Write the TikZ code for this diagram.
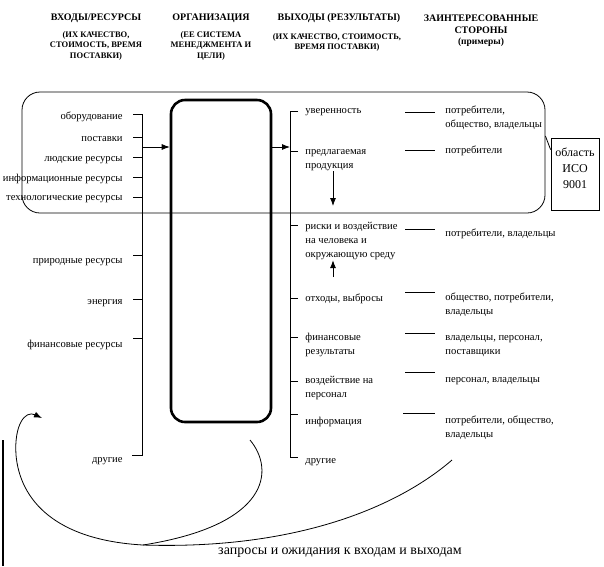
\documentclass[tikz,border=0pt]{standalone}
\usepackage{fontspec}
\setmainfont{Liberation Serif}
\usepackage{tikz}
\usetikzlibrary{positioning,arrows.meta}

\begin{document}
\begin{tikzpicture}[x=1pt,y=-1pt,line width=0.8pt,
	hdr/.style={font=\fontsize{10}{12}\selectfont\bfseries,align=center,inner sep=0pt},
	sub/.style={font=\fontsize{8.5}{10.5}\selectfont\bfseries,align=center,inner sep=0pt},
	lbl/.style={font=\fontsize{10.6}{14}\selectfont,inner sep=0pt,align=left},
	arr/.style={-{Latex[length=8pt,width=6pt]}}]
	\useasboundingbox (0,0) rectangle (604,566);
	% headings
	\node[hdr] (h1) at (96,18) {ВХОДЫ/РЕСУРСЫ};
	\node[sub] (h1a) at (96,45.5) {(ИХ КАЧЕСТВО,\\СТОИМОСТЬ, ВРЕМЯ\\ПОСТАВКИ)};
	\node[hdr] (h2) at (211,18) {ОРГАНИЗАЦИЯ};
	\node[sub] (h2a) at (211,45.5) {(ЕЕ СИСТЕМА\\МЕНЕДЖМЕНТА И\\ЦЕЛИ)};
	\node[hdr] (h3) at (339,18) {ВЫХОДЫ (РЕЗУЛЬТАТЫ)};
	\node[sub] (h3a) at (337,42.5) {(ИХ КАЧЕСТВО, СТОИМОСТЬ,\\ВРЕМЯ ПОСТАВКИ)};
	\node[hdr] (h4) at (481,24) {ЗАИНТЕРЕСОВАННЫЕ\\СТОРОНЫ};
	\node[sub,font=\fontsize{9.5}{11}\selectfont\bfseries] (h4a) at (481,42) {(примеры)};
	% boxes
	\node[draw,rounded corners=18pt,minimum width=523pt,minimum height=121pt] (qms) at (283.5,152.5) {};
	\node[draw,line width=2.6pt,rounded corners=14pt,minimum width=100pt,minimum height=322pt] (org) at (221,261) {};
	\node[draw,font=\fontsize{12}{16}\selectfont,align=center,inner sep=3pt,text depth=12pt,
		minimum width=48pt,minimum height=72pt] (iso) at (575,174) {область\\ИСО\\9001};
	\draw (qms.east |- 0,136) -- ([yshift=-12pt]iso.north west);
	% inputs
	\node[lbl,anchor=east] (i1) at (123,117) {оборудование};
	\node[lbl,anchor=east] (i2) at (123,139) {поставки};
	\node[lbl,anchor=east] (i3) at (123,160) {людские ресурсы};
	\node[lbl,anchor=east] (i4) at (123,179) {информационные ресурсы};
	\node[lbl,anchor=east] (i5) at (123,199) {технологические ресурсы};
	\node[lbl,anchor=east] (i6) at (123,262) {природные ресурсы};
	\node[lbl,anchor=east] (i7) at (123,303) {энергия};
	\node[lbl,anchor=east] (i8) at (123,345) {финансовые ресурсы};
	\node[lbl,anchor=east] (i9) at (123,461) {другие};
	\draw (133,114) -- (142,114) -- (142,455) -- (132,455);
	\draw (133,137) -- (142,137);
	\draw (133,157) -- (142,157);
	\draw (133,177) -- (142,177);
	\draw (133,197) -- (142,197);
	\draw (133,255) -- (142,255);
	\draw (133,299) -- (142,299);
	\draw (133,338) -- (142,338);
	\coordinate (inb) at (142,147);
	\draw[arr] (inb) -- (inb -| org.west);
	% outputs
	\node[lbl,anchor=west] (o1) at (305,112) {уверенность};
	\node[lbl,anchor=west] (o2) at (305,160) {предлагаемая\\продукция};
	\node[lbl,anchor=west] (o3) at (305,241) {риски и воздействие\\на человека и\\окружающую среду};
	\node[lbl,anchor=west] (o4) at (305,299) {отходы, выбросы};
	\node[lbl,anchor=west] (o5) at (305,345) {финансовые\\результаты};
	\node[lbl,anchor=west] (o6) at (305,388) {воздействие на\\персонал};
	\node[lbl,anchor=west] (o7) at (305,422) {информация};
	\node[lbl,anchor=west] (o8) at (305,462) {другие};
	\draw (298,111) -- (290,111) -- (290,457) -- (298,457);
	\draw (290,151) -- (298,151);
	\draw (290,225) -- (298,225);
	\draw (290,298) -- (298,298);
	\draw (290,337) -- (298,337);
	\draw (290,381) -- (298,381);
	\draw (290,414) -- (298,414);
	\coordinate (outb) at (290,147);
	\draw[arr] (org.east |- outb) -- (outb);
	\coordinate (d1) at (333,206);
	\draw[arr] (d1 |- o2.south) -- (d1);
	\coordinate (u1) at (333,277);
	\draw[arr] (u1) -- (u1 |- o3.south);
	% interested parties
	\node[lbl,anchor=west] (s1) at (445,118) {потребители,\\общество, владельцы};
	\node[lbl,anchor=west] (s2) at (445,151) {потребители};
	\node[lbl,anchor=west] (s3) at (445,234) {потребители, владельцы};
	\node[lbl,anchor=west] (s4) at (445,305) {общество, потребители,\\владельцы};
	\node[lbl,anchor=west] (s5) at (445,346) {владельцы, персонал,\\поставщики};
	\node[lbl,anchor=west] (s6) at (445,381) {персонал, владельцы};
	\node[lbl,anchor=west] (s7) at (445,428) {потребители, общество,\\владельцы};
	\draw (405,112) -- (435,112);
	\draw (405,150) -- (435,150);
	\draw (405,229) -- (435,229);
	\draw (405,292) -- (435,292);
	\draw (405,333) -- (435,333);
	\draw (405,372) -- (435,372);
	\draw (403,413) -- (435,413);
	% requests
	\node[font=\fontsize{14}{16}\selectfont,inner sep=0pt] (req) at (340,553) {запросы и ожидания к входам и выходам};
	\coordinate (jn) at (143,545);
	\coordinate (c1) at (250,440);
	\coordinate (c2) at (452,460);
	\coordinate (c3) at (42,418);
	\draw (c1) .. controls (275,470) and (270,525) .. (jn);
	\draw (jn) .. controls (300,550) and (400,505) .. (c2);
	\draw[arr] (jn) .. controls (55,540) and (20,500) .. (16,455) .. controls (14,425) and (25,410) .. (c3);
	\draw[line width=2.5pt] (3,440) -- (3,566);
\end{tikzpicture}
\end{document}
